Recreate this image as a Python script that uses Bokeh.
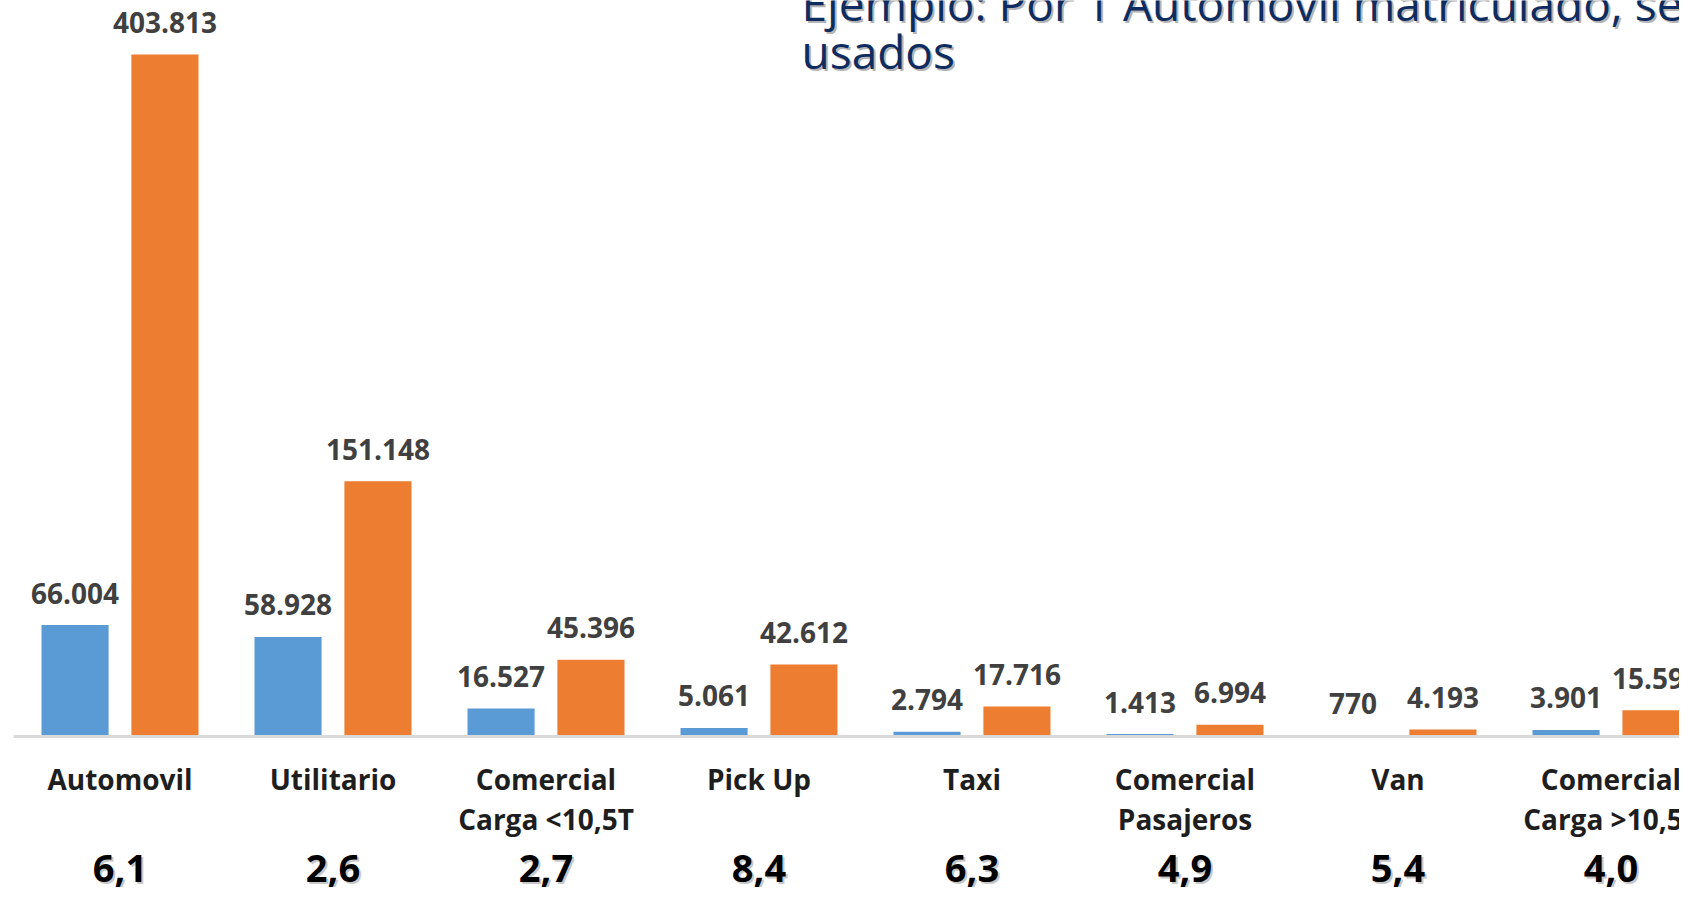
from bokeh.plotting import figure
from bokeh.models import ColumnDataSource, Range1d, Label
from bokeh.core.properties import value
from bokeh.embed import file_html
from bokeh.resources import INLINE

# ---- data ----
cat_line1 = ["Automovil", "Utilitario", "Comercial", "Pick Up", "Taxi", "Comercial", "Van", "Comercial"]
cat_line2 = ["", "", "Carga <10,5T", "", "", "Pasajeros", "", "Carga >10,5T"]
nuevos = [66004, 58928, 16527, 5061, 2794, 1413, 770, 3901]
usados = [403813, 151148, 45396, 42612, 17716, 6994, 4193, 15593]
ratio = ["6,1", "2,6", "2,7", "8,4", "6,3", "4,9", "5,4", "4,0"]
title_line1 = "Ejemplo: Por 1 Automovil matriculado, se"
title_line2 = "usados"

BLUE = "#5B9BD5"
ORANGE = "#ED7D31"

def fmt(v):
    return f"{v:,}".replace(",", ".")

idx = list(range(len(cat_line1)))
off = 0.211
bw = 0.315
src = ColumnDataSource(dict(
    x=idx,
    xb=[i - off for i in idx],
    xo=[i + off for i in idx],
    nuevos=nuevos,
    usados=usados,
    ln=[fmt(v) for v in nuevos],
    lu=[fmt(v) for v in usados],
    c1=cat_line1,
    c2=cat_line2,
    r=ratio,
))

W, H = 1679, 887
BASE = 736                   # baseline, px from top
k = 682 / max(usados)        # px per unit
x0 = -119.5 / 213
p = figure(width=W, height=H, output_backend="svg", toolbar_location=None,
           x_range=Range1d(x0, x0 + W / 213), y_range=Range1d(-(H - BASE) / k, BASE / k),
           x_axis_type=None, y_axis_type=None, min_border=0)
p.outline_line_color = None
p.xgrid.visible = False
p.ygrid.visible = False
p.background_fill_color = "white"
p.border_fill_color = "white"

p.vbar(x="xb", top="nuevos", bottom=0, width=bw, source=src, color=BLUE, line_color=None)
p.vbar(x="xo", top="usados", bottom=0, width=bw, source=src, color=ORANGE, line_color=None)
p.segment(x0=[-0.5], y0=[0], x1=[7.8], y1=[0], line_color="#D9D9D9", line_width=3)

font = value("Open Sans")
p.text(x="xb", y="nuevos", text="ln", source=src, y_offset=-32, text_align="center",
       text_baseline="middle", text_font=font, text_font_style="bold",
       text_font_size="28px", text_color="#404040")
p.text(x="xo", y="usados", text="lu", source=src, y_offset=-32, text_align="center",
       text_baseline="middle", text_font=font, text_font_style="bold",
       text_font_size="28px", text_color="#404040")
p.text(x="x", y=0, text="c1", source=src, y_offset=42, text_align="center",
       text_baseline="middle", text_font=font, text_font_style="bold",
       text_font_size="28px", text_color="#1e1e1e")
p.text(x="x", y=0, text="c2", source=src, y_offset=82, text_align="center",
       text_baseline="middle", text_font=font, text_font_style="bold",
       text_font_size="28px", text_color="#1e1e1e")
# ratio numbers with faint shadow
p.text(x="x", y=0, text="r", source=src, x_offset=2, y_offset=134, text_align="center",
       text_baseline="middle", text_font=font, text_font_style="bold",
       text_font_size="38px", text_color="#c8c8c8")
p.text(x="x", y=0, text="r", source=src, y_offset=132, text_align="center",
       text_baseline="middle", text_font=font, text_font_style="bold",
       text_font_size="38px", text_color="#000000")

# title (cut at the top edge as in the reference)
tx = 801
for dx, dy, col in [(2, -2, "#b4b4b4"), (0, 0, "#0E2C5F")]:
    p.add_layout(Label(x=tx + dx, y=H - 2 + dy, x_units="screen", y_units="screen",
                       text=title_line1, text_font="Open Sans", text_font_size="46px",
                       text_color=col, text_baseline="alphabetic"))
    p.add_layout(Label(x=tx + dx, y=H - 50 + dy, x_units="screen", y_units="screen",
                       text=title_line2, text_font="Open Sans", text_font_size="46px",
                       text_color=col, text_baseline="alphabetic"))

open("out.html", "w").write(file_html(p, INLINE))
